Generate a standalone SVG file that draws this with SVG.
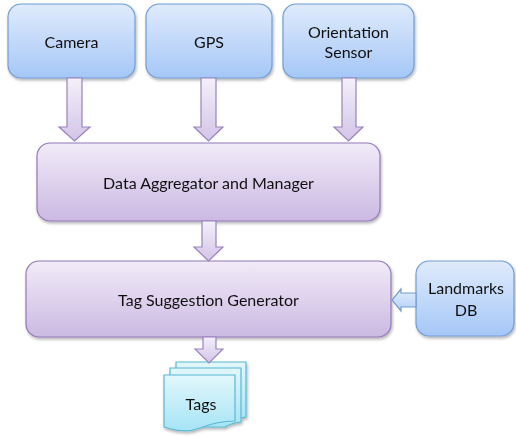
<svg xmlns="http://www.w3.org/2000/svg" width="516" height="437" viewBox="0 0 516 437">
<defs>
<linearGradient id="gBlue" x1="0" y1="0" x2="0" y2="1">
<stop offset="0" stop-color="#e0ebfc"/>
<stop offset="1" stop-color="#a5c7f7"/>
</linearGradient>
<linearGradient id="gPurple" x1="0" y1="0" x2="0" y2="1">
<stop offset="0" stop-color="#f1ebf8"/>
<stop offset="1" stop-color="#cbb9e2"/>
</linearGradient>
<linearGradient id="gArrow" x1="0" y1="0" x2="0" y2="1">
<stop offset="0" stop-color="#f4f0f9"/>
<stop offset="1" stop-color="#d3c4e8"/>
</linearGradient>
<linearGradient id="gArrowBlue" x1="0" y1="0" x2="0" y2="1">
<stop offset="0" stop-color="#e3eefc"/>
<stop offset="1" stop-color="#b4d0f7"/>
</linearGradient>
<linearGradient id="gCyan" x1="0" y1="0" x2="0" y2="1">
<stop offset="0" stop-color="#e2f7fc"/>
<stop offset="1" stop-color="#a6e4f5"/>
</linearGradient>
<filter id="sh" x="-10%" y="-10%" width="130%" height="140%">
<feGaussianBlur in="SourceAlpha" stdDeviation="1.5"/>
<feOffset dx="1" dy="2" result="b"/>
<feComponentTransfer><feFuncA type="linear" slope="0.3"/></feComponentTransfer>
<feMerge><feMergeNode/><feMergeNode in="SourceGraphic"/></feMerge>
</filter>
</defs>
<style>
.blue{fill:url(#gBlue);stroke:#6f9dd6;stroke-width:1.2}
.purple{fill:url(#gPurple);stroke:#9478b8;stroke-width:1.2}
.arrow{fill:url(#gArrow);stroke:#9a82bd;stroke-width:1.2}
.arrowb{fill:url(#gArrowBlue);stroke:#6f9dd6;stroke-width:1.2}
.doc{fill:url(#gCyan);stroke:#5ab8d2;stroke-width:1.2}
text{font-family:Lato,"Open Sans","Liberation Sans",sans-serif;font-size:16px;fill:#111;text-anchor:middle}
</style>

<g id="camera" filter="url(#sh)">
<rect class="blue" x="8" y="4" width="127" height="74" rx="13"/>
<text x="71.5" y="47.5">Camera</text>
</g>
<g id="gps" filter="url(#sh)">
<rect class="blue" x="146" y="4" width="126" height="74" rx="13"/>
<text x="209" y="47.5">GPS</text>
</g>
<g id="orientation-sensor" filter="url(#sh)">
<rect class="blue" x="283" y="4" width="131" height="74" rx="13"/>
<text x="348.5" y="37.5">Orientation</text>
<text x="348.5" y="57.5">Sensor</text>
</g>
<g id="data-aggregator" filter="url(#sh)">
<rect class="purple" x="37" y="143" width="343" height="78" rx="13"/>
<text x="208.5" y="188.5">Data Aggregator and Manager</text>
</g>
<g id="tag-suggestion-generator" filter="url(#sh)">
<rect class="purple" x="26" y="261" width="365" height="76" rx="13"/>
<text x="208.5" y="305.5">Tag Suggestion Generator</text>
</g>
<g id="landmarks-db" filter="url(#sh)">
<rect class="blue" x="416" y="261" width="98" height="75" rx="13"/>
<text x="466" y="293.5">Landmarks</text>
<text x="466" y="315.5">DB</text>
</g>
<g id="tags" filter="url(#sh)">
<path class="doc" d="M176,362 H246 V417 C238,418 234,419 230,421 L176,421 Z"/>
<path class="doc" d="M170,368 H241 V422 C233,423 229,424 225,427 L170,427 Z"/>
<path class="doc" d="M164,375 H235 V421 C220,421 210,424 200,428 C188,433 176,431 164,427 Z"/>
<text x="201" y="410">Tags</text>
</g>

<g id="connectors">
<path class="arrow" d="M67,78 H82 V127 H90 L74.5,141 L59,127 H67 Z"/>
<path class="arrow" d="M201,78 H216 V127 H223 L208.5,141 L194,127 H201 Z"/>
<path class="arrow" d="M342,78 H356 V127 H363 L348.5,141 L334,127 H342 Z"/>
<path class="arrow" d="M202,221 H216 V247 H223 L208.5,261 L194,247 H202 Z"/>
<path class="arrow" d="M203,337 H216 V349 H223 L209,363 L195,349 H203 Z"/>
<path class="arrowb" d="M416,293 V307 H401 V311 L392,300 L401,289 V293 Z"/>
</g>
</svg>
